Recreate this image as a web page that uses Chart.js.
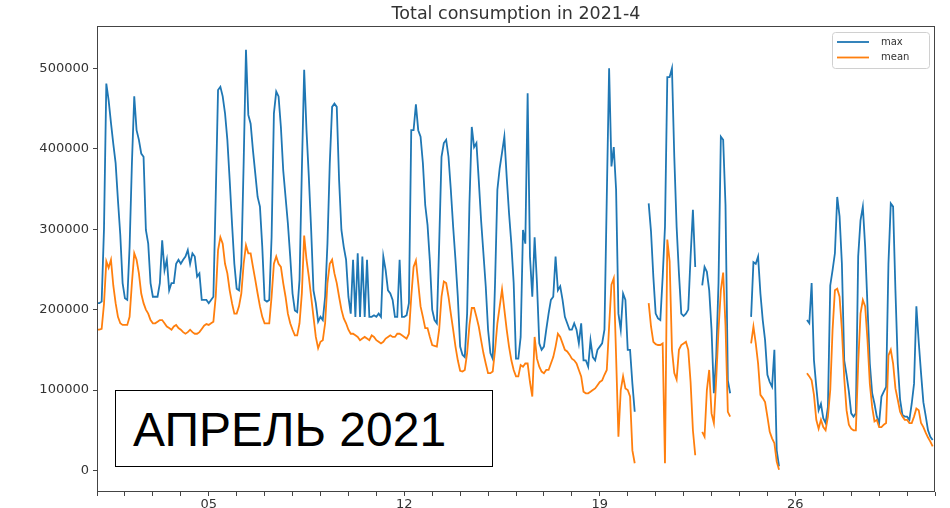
<!DOCTYPE html>
<html>
<head>
<meta charset="utf-8">
<script src="https://cdn.jsdelivr.net/npm/chart.js@4.4.1/dist/chart.umd.min.js"></script>
<style>
  html, body { margin: 0; padding: 0; background: #fff; }
  #wrap { position: relative; width: 950px; height: 508px; }
  #note {
    position: absolute; left: 115px; top: 390px; width: 378px; height: 77px;
    box-sizing: border-box; border: 1.5px solid #000; background: #fff;
    font-family: "Liberation Sans", Arial, sans-serif; font-size: 48px;
    line-height: 70px; padding: 4px 0 0 17px; color: #000; white-space: nowrap;
  }
</style>
</head>
<body>
<div id="wrap">
  <canvas id="myChart" width="950" height="508"></canvas>
  <div id="note">АПРЕЛЬ 2021</div>
</div>
<script>
// readings every 2 hours, April 2021, values in thousands
const sampleStep = 2;

const maxSeries = [
  208, 208, 210, 300, 481, 460, 432, 406, 382, 336, 293, 233, // 01
  214, 212, 278, 382, 465, 423, 411, 394, 390, 299, 282, 233, // 02
  216, 216, 216, 233, 286, 249, 262, 224, 233, 233, 257, 262, // 03
  257, 262, 266, 274, 257, 270, 266, 241, 245, 212, 212, 212, // 04
  208, 212, 216, 340, 473, 477, 465, 444, 411, 361, 307, 257, // 05
  226, 224, 257, 382, 523, 442, 431, 398, 369, 340, 328, 278, // 06
  212, 210, 212, 290, 444, 471, 465, 427, 373, 340, 307, 266, // 07
  220, 199, 197, 237, 373, 498, 423, 365, 299, 224, 208, 185, // 08
  191, 187, 216, 282, 382, 452, 456, 452, 361, 299, 278, 262, // 09
  216, 195, 262, 191, 270, 191, 266, 191, 262, 191, 191, 193, // 10
  191, 195, 191, 266, 249, 224, 220, 212, 191, 191, 262, 191, // 11
  191, 193, 208, 423, 423, 455, 423, 415, 382, 330, 305, 260, // 12
  200, 187, 183, 282, 390, 407, 411, 390, 349, 303, 262, 216, // 13
  154, 144, 141, 195, 332, 427, 402, 407, 361, 311, 270, 229, // 14
  175, 146, 139, 233, 349, 376, 395, 415, 365, 320, 282, 233, // 15
  139, 139, 166, 299, 282, 469, 266, 216, 290, 233, 158, 150, // 16
  154, 175, 195, 212, 216, 266, 224, 229, 212, 191, 183, 175, // 17
  175, 183, 175, 158, 183, 137, 137, 129, 162, 141, 137, 150, // 18
  154, 158, 175, 340, 500, 378, 402, 349, 195, 175, 220, 212, // 19
  150, 150, 108, 73, null, null, null, null, null, 332, 297, 241, // 20
  195, 189, 187, 240, 303, 489, 489, 500, 390, 303, 245, 195, // 21
  192, 195, 200, 266, 324, 253, null, null, 230, 253, 247, 224, // 22
  175, 96, 141, 233, 415, 411, 330, 112, 96, null, null, null, // 23
  null, null, null, null, null, 191, 259, 257, 266, 220, 187, 162, // 24
  119, 110, 104, 150, 25, 5, null, null, null, null, null, null, // 25
  null, null, null, null, null, 187, 183, 233, 137, 104, 75, 83, // 26
  65, 59, 79, 230, 249, 270, 340, 316, 257, 137, 119, 98, // 27
  71, 67, 71, 266, 311, 328, 278, 204, 133, 96, 83, 67, // 28
  59, 92, 98, 104, 257, 332, 328, 224, 133, 88, 69, 67, // 29
  67, 63, 83, 108, 204, 160, 121, 85, 68, 50, 42, 38 // 30
];

const meanSeries = [
  175, 175, 176, 207, 260, 252, 262, 230, 208, 191, 183, 181, // 01
  181, 181, 191, 233, 270, 262, 245, 220, 208, 200, 195, 187, // 02
  183, 183, 185, 187, 187, 183, 179, 177, 175, 179, 181, 177, // 03
  175, 172, 170, 172, 175, 172, 170, 170, 172, 176, 180, 182, // 04
  181, 183, 185, 216, 274, 290, 282, 257, 245, 224, 208, 195, // 05
  195, 204, 220, 257, 280, 270, 270, 253, 237, 220, 204, 191, // 06
  183, 183, 183, 216, 257, 266, 257, 253, 233, 216, 195, 183, // 07
  175, 168, 168, 183, 220, 292, 262, 241, 216, 191, 166, 152, // 08
  160, 162, 183, 233, 257, 262, 245, 233, 216, 200, 189, 183, // 09
  175, 170, 170, 168, 166, 162, 164, 166, 164, 162, 168, 166, // 10
  162, 160, 158, 160, 164, 166, 168, 166, 166, 170, 170, 168, // 11
  166, 164, 170, 216, 253, 261, 233, 204, 191, 177, 177, 166, // 12
  156, 155, 154, 175, 216, 235, 233, 216, 195, 175, 154, 137, // 13
  124, 123, 125, 146, 181, 202, 202, 191, 179, 162, 146, 133, // 14
  121, 121, 123, 150, 183, 204, 225, 200, 175, 154, 137, 125, // 15
  117, 117, 131, 129, 133, 133, 110, 92, 166, 139, 129, 123, // 16
  121, 125, 125, 133, 141, 154, 170, 166, 158, 150, 148, 144, // 17
  139, 137, 133, 125, 117, 98, 96, 96, 98, 100, 102, 106, // 18
  110, 112, 119, 125, 179, 231, 239, 142, 42, 100, 117, 102, // 19
  100, 92, 25, 9, null, null, null, null, null, 208, 179, 160, // 20
  157, 156, 156, 158, 9, 287, 260, 150, 121, 113, 150, 156, // 21
  158, 160, 150, 110, 50, 19, null, null, 48, 42, 100, 125, // 22
  71, 59, 113, 175, 224, 246, 180, 73, 67, null, null, null, // 23
  null, null, null, null, null, 158, 179, 158, 133, 94, 90, 85, // 24
  67, 48, 40, 34, 11, 1, null, null, null, null, null, null, // 25
  null, null, null, null, null, 121, 117, 112, 94, 63, 52, 63, // 26
  54, 50, 67, 100, 175, 224, 226, 216, 175, 115, 75, 57, // 27
  52, 50, 50, 133, 195, 212, 204, 162, 108, 79, 61, 63, // 28
  54, 54, 57, 59, 143, 150, 133, 102, 88, 73, 67, 63, // 29
  63, 59, 59, 67, 77, 75, 59, 54, 47, 41, 36, 30 // 30
];

const yTickValues = [0, 100, 200, 300, 400, 500];
const xLabelHours = [96, 264, 432, 600];
const xLabels = ["05", "12", "19", "26"];
const dayCount = 30;

const toPoints = arr => arr.map((v, i) => ({ x: i * sampleStep, y: v }));
const dayHours = Array.from({ length: dayCount + 1 }, (_, d) => d * 24);

const tickFont = { family: "DejaVu Sans", size: 13 };

// box around the axes + legend in upper right like matplotlib
const framePlugin = {
  id: "frame",
  afterDraw(chart) {
    const { ctx, chartArea: a } = chart;
    ctx.save();
    ctx.strokeStyle = "#444";
    ctx.lineWidth = 1;
    ctx.strokeRect(a.left + 0.5, a.top + 0.5, a.right - a.left - 1, a.bottom - a.top - 1);

    const bx = 832, by = 32, bw = 97, bh = 36;
    ctx.fillStyle = "rgba(255,255,255,0.8)";
    ctx.strokeStyle = "#d0d0d0";
    ctx.beginPath();
    ctx.roundRect(bx + 0.5, by + 0.5, bw, bh, 3);
    ctx.fill();
    ctx.stroke();

    ctx.font = "10px 'DejaVu Sans'";
    ctx.textBaseline = "middle";
    chart.data.datasets.forEach((ds, i) => {
      const y = by + 10 + i * 15.5;
      ctx.strokeStyle = ds.borderColor;
      ctx.lineWidth = 1.8;
      ctx.beginPath();
      ctx.moveTo(837, y);
      ctx.lineTo(869, y);
      ctx.stroke();
      ctx.fillStyle = "#333";
      ctx.fillText(ds.label, 881, y);
    });
    ctx.restore();
  }
};

const ctx = document.getElementById("myChart").getContext("2d");

new Chart(ctx, {
  type: "line",
  data: {
    datasets: [
      {
        label: "max",
        data: toPoints(maxSeries),
        borderColor: "#1f77b4",
        borderWidth: 1.8,
        pointRadius: 0,
        spanGaps: false,
        order: 2
      },
      {
        label: "mean",
        data: toPoints(meanSeries),
        borderColor: "#ff7f0e",
        borderWidth: 1.8,
        pointRadius: 0,
        spanGaps: false,
        order: 1
      }
    ]
  },
  options: {
    responsive: false,
    devicePixelRatio: 1,
    animation: false,
    events: [],
    layout: { padding: { left: 0, right: 15, top: 0, bottom: 0 } },
    plugins: {
      legend: { display: false },
      tooltip: { enabled: false },
      title: {
        display: true,
        text: "Total consumption in 2021-4",
        fullSize: false,
        color: "#333",
        font: { family: "DejaVu Sans", size: 17.5, weight: "normal" },
        padding: { top: 4, bottom: 1 }
      }
    },
    scales: {
      x: {
        type: "linear",
        min: 0,
        max: dayCount * 24,
        afterBuildTicks: s => { s.ticks = dayHours.map(v => ({ value: v })); },
        afterFit: s => { s.height = 16; },
        ticks: {
          autoSkip: false,
          maxRotation: 0,
          padding: 1,
          color: "#333",
          font: tickFont,
          callback: v => {
            const k = xLabelHours.indexOf(v);
            return k >= 0 ? xLabels[k] : "";
          }
        },
        grid: { drawOnChartArea: false, tickLength: 4, color: "#444" },
        border: { display: false }
      },
      y: {
        min: -26.7,
        max: 552.5,
        afterBuildTicks: s => { s.ticks = yTickValues.map(v => ({ value: v })); },
        afterFit: s => { s.width = 97; },
        ticks: {
          padding: 4,
          color: "#333",
          font: tickFont,
          callback: v => String(v * 1000)
        },
        grid: { drawOnChartArea: false, tickLength: 4, color: "#444" },
        border: { display: false }
      }
    }
  },
  plugins: [framePlugin]
});
</script>
</body>
</html>
